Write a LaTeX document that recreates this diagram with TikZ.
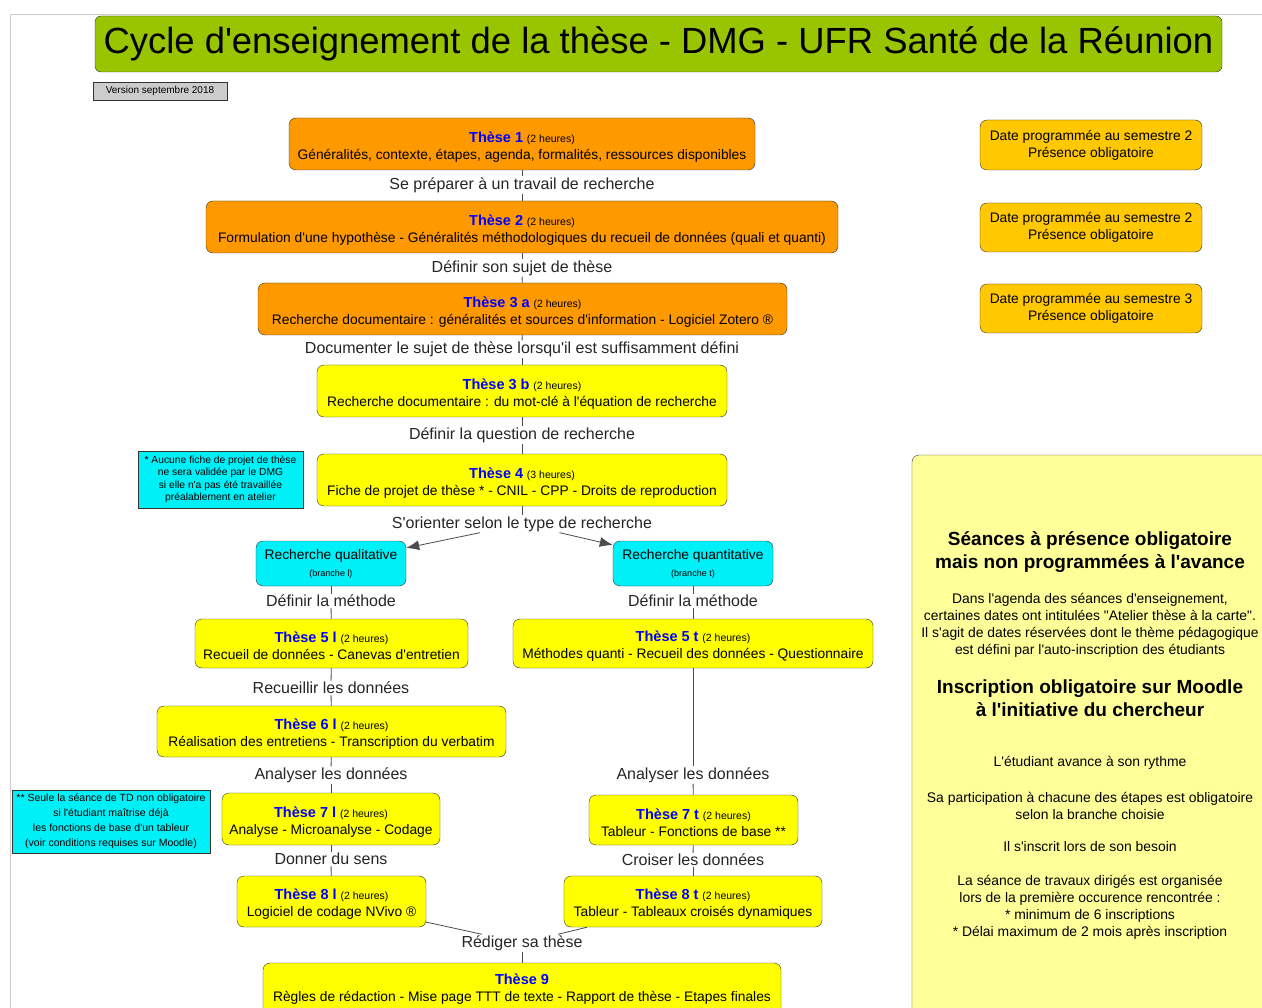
\documentclass[tikz,border=0pt]{standalone}
\usepackage{fontspec}
\setmainfont{Liberation Sans}[Ligatures=TeXOff]
\usetikzlibrary{shapes, calc, arrows.meta, positioning}
\definecolor{vertTitre}{HTML}{99C400}
\definecolor{orangeSeance}{HTML}{FF9900}
\definecolor{jauneSeance}{HTML}{FFFF00}
\definecolor{cyanSeance}{HTML}{00F0F8}
\definecolor{orDate}{HTML}{FFC800}
\definecolor{jauneCarte}{HTML}{FFFF99}
\definecolor{bleuTitre}{HTML}{0000FF}
\tikzstyle{seance}=[draw=black!80, rounded corners=7pt, align=center, inner sep=2pt, font=\fontsize{13.8}{17}\selectfont]
\tikzstyle{seanceOrange}=[seance, fill=orangeSeance]
\tikzstyle{seanceJaune}=[seance, fill=jauneSeance]
\tikzstyle{branche}=[seance, fill=cyanSeance]
\tikzstyle{dateBox}=[seance, fill=orDate]
\tikzstyle{noteBox}=[draw=black!80, fill=cyanSeance, align=center, inner sep=2pt]
\tikzstyle{etiquette}=[inner sep=1pt, text=black!85, font=\fontsize{16}{18}\selectfont]
\tikzstyle{carteTexte}=[align=center, font=\fontsize{13.9}{17}\selectfont]
\tikzstyle{carteTitre}=[align=center, font=\bfseries\fontsize{19}{23}\selectfont]
\tikzstyle{lien}=[draw=black!70, line width=0.8pt]
\tikzstyle{fleche}=[lien, -{Latex[length=13pt, width=10pt]}]
\newcommand{\theseTitre}[2]{\rule{0pt}{16pt}{\color{bleuTitre}\bfseries\fontsize{14.5}{17}\selectfont #1} {\fontsize{10.5}{12}\selectfont (#2)}}

\begin{document}
\begin{tikzpicture}[x=1pt, y=-1pt]
    \clip (0, 0) rectangle (1262, 1008);
    \fill[white] (0, 0) rectangle (1262, 1008);
    \draw[black!20] (10, 1008) -- (10, 14) -- (1262, 14);

    % titre
    \node (titre)[draw=black!80, fill=vertTitre, rounded corners=6pt, minimum width=1127pt, minimum height=56pt, font=\fontsize{36.4}{40}\selectfont] at (658.5, 44) {Cycle d'enseignement de la thèse - DMG - UFR Santé de la Réunion};
    \node (version)[draw=black!80, fill=black!20, minimum width=134pt, minimum height=18pt, inner sep=1pt, font=\fontsize{10}{12}\selectfont] at (160, 91) {Version septembre 2018};

    % tronc commun
    \node (t1)[seanceOrange, minimum width=466pt, minimum height=52pt] at (522, 144) {\theseTitre{Thèse 1}{2 heures}\\Généralités, contexte, étapes, agenda, formalités, ressources disponibles};
    \node (l1)[etiquette] at (522, 185) {Se préparer à un travail de recherche};
    \node (t2)[seanceOrange, minimum width=632pt, minimum height=52pt] at (522, 227) {\theseTitre{Thèse 2}{2 heures}\\Formulation d'une hypothèse - Généralités méthodologiques du recueil de données (quali et quanti)};
    \node (l2)[etiquette] at (522, 268) {Définir son sujet de thèse};
    \node (t3a)[seanceOrange, minimum width=529pt, minimum height=52pt] at (522.5, 309) {\theseTitre{Thèse 3 a}{2 heures}\\Recherche documentaire : généralités et sources d'information - Logiciel Zotero \textregistered};
    \node (l3)[etiquette] at (522, 349) {Documenter le sujet de thèse lorsqu'il est suffisamment défini};
    \node (t3b)[seanceJaune, minimum width=410pt, minimum height=52pt] at (522, 391) {\theseTitre{Thèse 3 b}{2 heures}\\Recherche documentaire : du mot-clé à l'équation de recherche};
    \node (l4)[etiquette] at (522, 435) {Définir la question de recherche};
    \node (t4)[seanceJaune, minimum width=410pt, minimum height=52pt] at (522, 480) {\theseTitre{Thèse 4}{3 heures}\\Fiche de projet de thèse * - CNIL - CPP - Droits de reproduction};
    \node (note1)[noteBox, minimum width=165pt, minimum height=57pt, font=\fontsize{10.3}{12.5}\selectfont] at (220.5, 479.5) {* Aucune fiche de projet de thèse\\ne sera validée par le DMG\\si elle n'a pas été travaillée\\préalablement en atelier};
    \node (l5)[etiquette] at (522, 524) {S'orienter selon le type de recherche};

    % branches
    \node (qual)[branche, minimum width=150pt, minimum height=45pt] at (331, 563.5) {Recherche qualitative\\{\fontsize{9}{11}\selectfont (branche l)}};
    \node (quant)[branche, minimum width=160pt, minimum height=45pt] at (693, 563.5) {Recherche quantitative\\{\fontsize{9}{11}\selectfont (branche t)}};

    % branche qualitative
    \node (l6l)[etiquette] at (331, 601) {Définir la méthode};
    \node (t5l)[seanceJaune, minimum width=273pt, minimum height=49pt] at (331.5, 643.5) {\theseTitre{Thèse 5 l}{2 heures}\\Recueil de données - Canevas d'entretien};
    \node (l7l)[etiquette] at (331, 688) {Recueillir les données};
    \node (t6l)[seanceJaune, minimum width=349pt, minimum height=51pt] at (331.5, 731.5) {\theseTitre{Thèse 6 l}{2 heures}\\Réalisation des entretiens - Transcription du verbatim};
    \node (l8l)[etiquette] at (331, 775) {Analyser les données};
    \node (t7l)[seanceJaune, minimum width=218pt, minimum height=52pt] at (331, 819) {\theseTitre{Thèse 7 l}{2 heures}\\Analyse - Microanalyse - Codage};
    \node (l9l)[etiquette] at (331, 859) {Donner du sens};
    \node (t8l)[seanceJaune, minimum width=189pt, minimum height=51pt] at (331.5, 901.5) {\theseTitre{Thèse 8 l}{2 heures}\\Logiciel de codage NVivo \textregistered};
    \node (note2)[noteBox, minimum width=198pt, minimum height=63pt, font=\fontsize{10.5}{15}\selectfont] at (111, 821.5) {** Seule la séance de TD non obligatoire\\si l'étudiant maîtrise déjà\\les fonctions de base d'un tableur\\(voir conditions requises sur Moodle)};

    % branche quantitative
    \node (l6t)[etiquette] at (693, 601) {Définir la méthode};
    \node (t5t)[seanceJaune, minimum width=360pt, minimum height=49pt] at (693, 643.5) {\theseTitre{Thèse 5 t}{2 heures}\\Méthodes quanti - Recueil des données - Questionnaire};
    \node (l8t)[etiquette] at (693, 775) {Analyser les données};
    \node (t7t)[seanceJaune, minimum width=209pt, minimum height=50pt] at (693.5, 820) {\theseTitre{Thèse 7 t}{2 heures}\\Tableur - Fonctions de base **};
    \node (l9t)[etiquette] at (693, 860) {Croiser les données};
    \node (t8t)[seanceJaune, minimum width=258pt, minimum height=51pt] at (693, 901.5) {\theseTitre{Thèse 8 t}{2 heures}\\Tableur - Tableaux croisés dynamiques};

    % fin
    \node (l10)[etiquette] at (522, 943) {Rédiger sa thèse};
    \node (t9)[seanceJaune, minimum width=518pt, minimum height=52pt] at (522, 989) {{\color{bleuTitre}\bfseries\fontsize{14.5}{17}\selectfont Thèse 9}\\Règles de rédaction - Mise page TTT de texte - Rapport de thèse - Etapes finales};

    % dates
    \node (d1)[dateBox, minimum width=222pt, minimum height=50pt] at (1091, 145) {Date programmée au semestre 2\\Présence obligatoire};
    \node (d2)[dateBox, minimum width=222pt, minimum height=49pt] at (1091, 227.5) {Date programmée au semestre 2\\Présence obligatoire};
    \node (d3)[dateBox, minimum width=222pt, minimum height=49pt] at (1091, 308.5) {Date programmée au semestre 3\\Présence obligatoire};

    % seances a la carte
    \node (carte)[seance, fill=jauneCarte, minimum width=400pt, minimum height=600pt] at (1112, 755) {};
    \node (c1)[carteTitre] at (1090, 552) {Séances à présence obligatoire\\mais non programmées à l'avance};
    \node (c2)[carteTexte] at (1090, 625) {Dans l'agenda des séances d'enseignement,\\certaines dates ont intitulées "Atelier thèse à la carte".\\Il s'agit de dates réservées dont le thème pédagogique\\est défini par l'auto-inscription des étudiants};
    \node (c3)[carteTitre] at (1090, 698) {Inscription obligatoire sur Moodle\\à l'initiative du chercheur};
    \node (c4)[carteTexte] at (1090, 763) {L'étudiant avance à son rythme};
    \node (c5)[carteTexte] at (1090, 806) {Sa participation à chacune des étapes est obligatoire\\selon la branche choisie};
    \node (c6)[carteTexte] at (1090, 847) {Il s'inscrit lors de son besoin};
    \node (c7)[carteTexte] at (1090, 907) {La séance de travaux dirigés est organisée\\lors de la première occurence rencontrée :\\* minimum de 6 inscriptions\\* Délai maximum de 2 mois après inscription};

    \draw[lien] (t1) -- (l1);
    \draw[lien] (l1) -- (t2);
    \draw[lien] (t2) -- (l2);
    \draw[lien] (l2) -- (t3a);
    \draw[lien] (t3a) -- (l3);
    \draw[lien] (l3) -- (t3b);
    \draw[lien] (t3b) -- (l4);
    \draw[lien] (l4) -- (t4);
    \draw[lien] (t4) -- (l5);
    \draw[fleche] (l5) -- (qual);
    \draw[fleche] (l5) -- (quant);

    \draw[lien] (qual) -- (l6l);
    \draw[lien] (l6l) -- (t5l);
    \draw[lien] (t5l) -- (l7l);
    \draw[lien] (l7l) -- (t6l);
    \draw[lien] (t6l) -- (l8l);
    \draw[lien] (l8l) -- (t7l);
    \draw[lien] (t7l) -- (l9l);
    \draw[lien] (l9l) -- (t8l);
    \draw[lien] (t8l) -- (l10);

    \draw[lien] (quant) -- (l6t);
    \draw[lien] (l6t) -- (t5t);
    \draw[lien] (t5t) -- (l8t);
    \draw[lien] (l8t) -- (t7t);
    \draw[lien] (t7t) -- (l9t);
    \draw[lien] (l9t) -- (t8t);
    \draw[lien] (t8t) -- (l10);

    \draw[lien] (l10) -- (t9);

\end{tikzpicture}
\end{document}
